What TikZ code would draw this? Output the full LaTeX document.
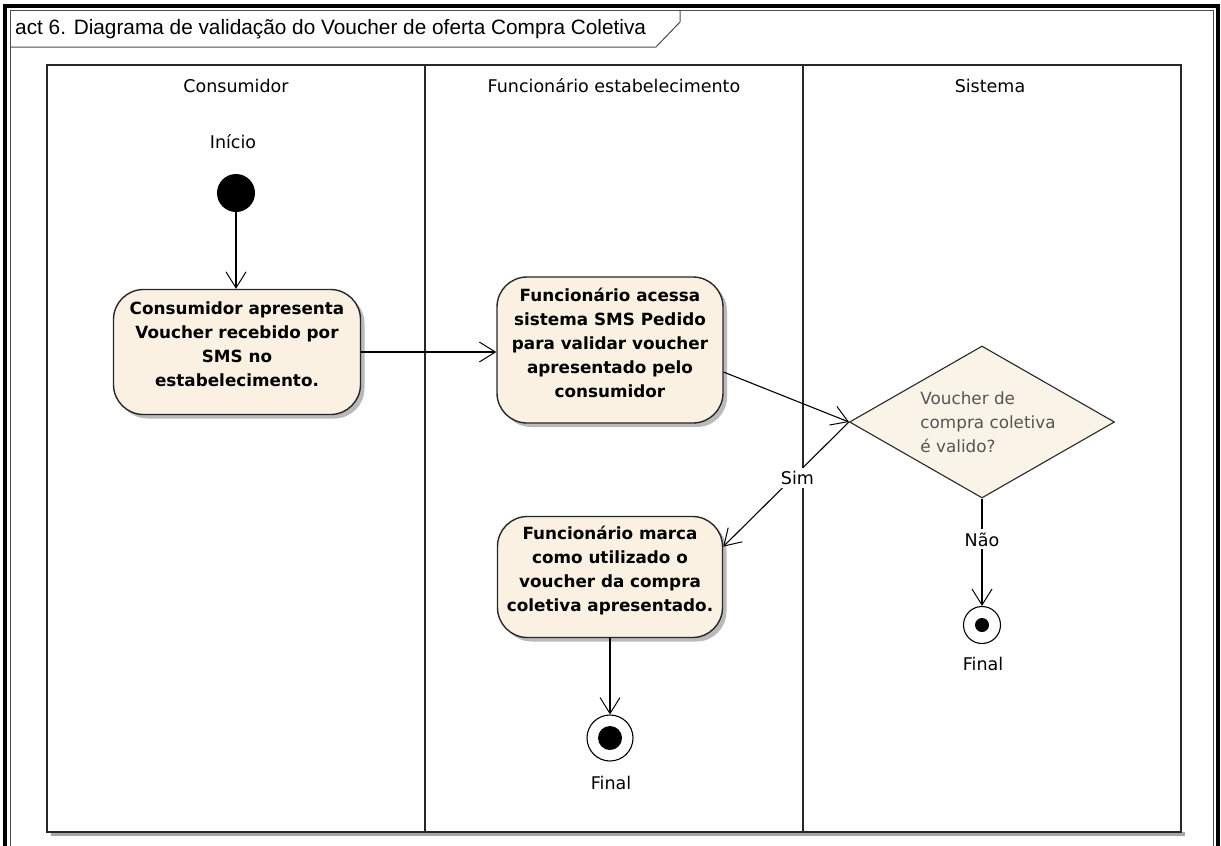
\documentclass[tikz,border=0pt]{standalone}
\usepackage{fontspec}
\setmainfont{DejaVu Sans}
\newfontfamily\titlefont{Liberation Sans}
\usetikzlibrary{shapes.geometric,arrows.meta,shadows}
\definecolor{actfill}{RGB}{251,241,227}
\definecolor{decfill}{RGB}{250,243,232}
\definecolor{linegray}{RGB}{40,40,40}
\definecolor{labelgray}{RGB}{85,85,85}

\begin{document}
\begin{tikzpicture}[x=1pt,y=-1pt,
  plain/.style={font=\fontsize{17.5}{20}\selectfont, inner sep=2pt},
  action/.style={draw=linegray, line width=1.4pt, fill=actfill,
    rounded corners=30pt, align=center, inner sep=0pt,
    font=\fontsize{16.8}{24}\selectfont\bfseries,
    drop shadow={shadow xshift=4pt, shadow yshift=-4pt, fill=black!45, opacity=.6}},
  decision/.style={diamond, draw=linegray, line width=1.1pt, fill=decfill,
    inner sep=0pt, minimum width=265pt, minimum height=152pt},
  initial/.style={circle, fill=black, inner sep=0pt, minimum size=38pt},
  final/.style={circle, draw=black, line width=1.1pt, fill=white, inner sep=0pt},
  flow/.style={draw=black, line width=1.1pt,
    -{Straight Barb[length=16pt, width=20pt, line width=1pt]}},
  edgelabel/.style={plain, fill=white, inner sep=3pt},
  lane/.style={draw=linegray, line width=1.6pt}
]
\useasboundingbox (0,0) rectangle (1221,846);
\fill[white] (0,0) rectangle (1221,846);

% diagram frame
\begin{scope}
  \clip (0,0) rectangle (1221,846);
  \draw[black, line width=3.2pt] (5,6) rectangle (1218,900);
  \draw[black!70, line width=0.8pt] (10,10) rectangle (1213,900);
\end{scope}
\draw[black!70, line width=1pt] (10,47) -- (656,47) -- (680,22) -- (680,10);
\node[anchor=west, inner sep=0pt, font=\titlefont\fontsize{20.8}{22}\selectfont] (title)
  at (15,29) {act 6. Diagrama de validação do Voucher de oferta Compra Coletiva};

% swimlanes
\fill[black!35] (51,832) rectangle (1185,836);
\draw[lane] (47,65) rectangle (1181,832);
\draw[lane] (425,65) -- (425,832);
\draw[lane] (803,65) -- (803,832);
\node[plain] (laneA) at (236,86) {Consumidor};
\node[plain] (laneB) at (614,86) {Funcionário estabelecimento};
\node[plain] (laneC) at (990,86) {Sistema};

% nodes
\node[plain] (lblInit) at (233,142) {Início};
\node[initial] (init) at (236,193) {};
\node[action, minimum width=247pt, minimum height=125pt] (box1) at (237,352)
  {Consumidor apresenta\\Voucher recebido por\\SMS no\\estabelecimento.\\[-8pt]};
\node[action, minimum width=226pt, minimum height=146pt] (box2) at (610,350)
  {Funcionário acessa\\sistema SMS Pedido\\para validar voucher\\apresentado pelo\\consumidor\\[-10pt]};
\node[decision] (dec) at (982,422) {};
\node[font=\fontsize{16.8}{24}\selectfont, text=labelgray, align=left, inner sep=0pt]
  (dectext) at (988,422) {Voucher de\\compra coletiva\\é valido?};
\node[action, minimum width=225pt, minimum height=121pt] (box3) at (610,577)
  {Funcionário marca\\como utilizado o\\voucher da compra\\coletiva apresentado.\\[-8pt]};

\node[final, minimum size=46pt] (fin1) at (610,738) {};
\fill[black] (fin1.center) circle (12pt);
\node[plain] (lblFin1) at (611,783) {Final};

\node[final, minimum size=37pt] (fin2) at (982,625) {};
\fill[black] (fin2.center) circle (7pt);
\node[plain] (lblFin2) at (983,664) {Final};

% flows
\draw[flow] (init) -- (init |- box1.north);
\draw[flow] (box1.east) -- (box1.east -| box2.west);
\draw[flow] (box2.-11) -- (dec.west);
\draw[flow] (dec.west) -- node[edgelabel, pos=0.41, yshift=-5pt] (lblSim) {Sim} (box3.15);
\draw[flow] (dec.south) -- node[edgelabel, pos=0.38] (lblNao) {Não} (fin2.north);
\draw[flow] (box3.south) -- (fin1.north);
\end{tikzpicture}
\end{document}
